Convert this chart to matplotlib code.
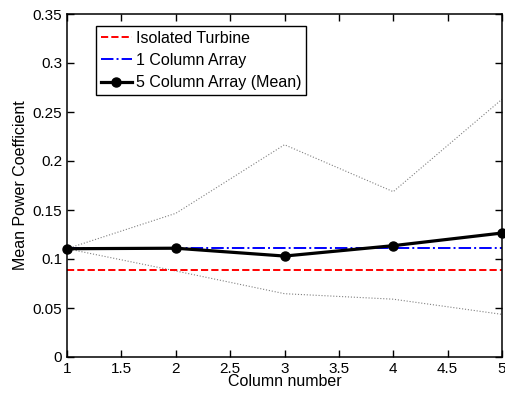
import matplotlib.pyplot as plt
import numpy as np

plt.rcParams['font.family'] = ['Liberation Sans', 'DejaVu Sans']

columns = [1, 2, 3, 4, 5]
isolated = [0.089, 0.089, 0.089, 0.089, 0.089]
one_column = [0.1115, 0.1115, 0.1115, 0.1115, 0.1115]
five_mean = [0.1105, 0.111, 0.103, 0.1136, 0.1265]
five_upper = [0.1105, 0.1466, 0.2166, 0.1687, 0.263]
five_lower = [0.1105, 0.0878, 0.0646, 0.059, 0.0435]

fig = plt.figure(figsize=(5.05, 3.96), dpi=100)
ax = fig.add_axes([67 / 505, 39 / 396, 435 / 505, 343 / 396])

ax.plot(columns, five_upper, ':', color='gray', linewidth=0.8)
ax.plot(columns, five_lower, ':', color='gray', linewidth=0.8)
ax.plot(columns, isolated, '--', color='red', linewidth=1.4, label='Isolated Turbine')
ax.plot(columns, one_column, '-.', color='blue', linewidth=1.4, label='1 Column Array')
ax.plot(columns, five_mean, '-o', color='black', linewidth=2.3, markersize=6.5,
        label='5 Column Array (Mean)', clip_on=False, zorder=5)

ax.set_xlim(1, 5)
ax.set_ylim(0, 0.35)
ax.set_xticks(np.arange(1, 5.01, 0.5))
ax.set_xticklabels(['1', '1.5', '2', '2.5', '3', '3.5', '4', '4.5', '5'])
ax.set_yticks(np.arange(0, 0.351, 0.05))
ax.set_yticklabels(['0', '0.05', '0.1', '0.15', '0.2', '0.25', '0.3', '0.35'])
ax.tick_params(direction='in', top=True, right=True, labelsize=11, length=5, width=1)
for s in ax.spines.values():
    s.set_linewidth(1.1)
ax.set_xlabel('Column number', fontsize=11.5, labelpad=-1)
ax.set_ylabel('Mean Power Coefficient', fontsize=11.5, labelpad=3)

leg = ax.legend(loc='upper left', bbox_to_anchor=(0.066, 0.965), fontsize=11.5,
                fancybox=False, edgecolor='black', framealpha=1,
                handlelength=2.0, handletextpad=0.2, borderpad=0.3, labelspacing=0.45,
                borderaxespad=0)
leg.get_frame().set_linewidth(1.0)

fig.savefig('out.png')
